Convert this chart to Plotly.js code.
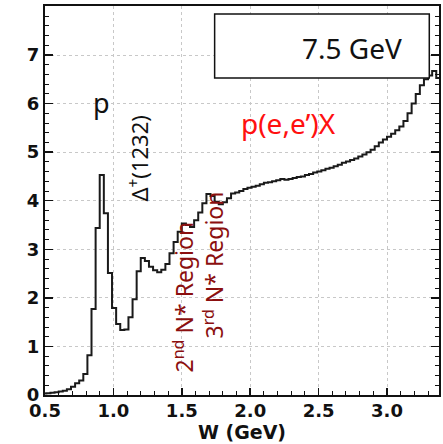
<!DOCTYPE html>
<html>
<head>
<meta charset="utf-8">
<script src="https://cdn.plot.ly/plotly-3.0.1.min.js"></script>
<style>
  html, body { margin: 0; padding: 0; background: #fff; }
  #chart { width: 443px; height: 444px; }
</style>
</head>
<body>
<div id="chart"></div>
<script>
// Inclusive p(e,e')X yield versus invariant mass W, 7.5 GeV beam.
const binStart = 0.48;   // GeV, lower edge of the first bin
const binWidth = 0.03;   // GeV
const counts = [
  0.03, 0.035, 0.045, 0.055, 0.07, 0.09, 0.12, 0.17, 0.24, 0.30, 0.43, 0.82,
  1.77, 3.44, 4.53, 3.74, 2.51, 1.79, 1.46, 1.34, 1.35, 1.60, 1.97, 2.55,
  2.82, 2.76, 2.64, 2.57, 2.53, 2.58, 2.70, 2.92, 3.15, 3.36, 3.53, 3.50,
  3.46, 3.60, 3.76, 3.95, 4.14, 4.10, 3.98, 3.93, 3.97, 4.05, 4.15, 4.17,
  4.20, 4.24, 4.27, 4.29, 4.31, 4.34, 4.37, 4.38, 4.40, 4.42, 4.45, 4.43,
  4.45, 4.47, 4.49, 4.50, 4.53, 4.55, 4.58, 4.60, 4.63, 4.66, 4.68, 4.71,
  4.74, 4.78, 4.81, 4.84, 4.87, 4.91, 4.95, 5.00, 5.05, 5.12, 5.20, 5.26,
  5.32, 5.38, 5.45, 5.53, 5.64, 5.80, 6.00, 6.20, 6.38, 6.50, 6.58, 6.67,
  6.53
];
const xTickVals = [0.5, 1.0, 1.5, 2.0, 2.5, 3.0];
const xTickText = ['0.5', '1.0', '1.5', '2.0', '2.5', '3.0'];
const yTickVals = [0, 1, 2, 3, 4, 5, 6, 7];
const yTickText = ['0', '1', '2', '3', '4', '5', '6', '7'];

// Step outline: one point per bin edge, the last edge repeats the last bin.
const edges = counts.map((_, i) => binStart + i * binWidth);
edges.push(binStart + counts.length * binWidth);
const stepY = counts.concat([counts[counts.length - 1]]);

const trace = {
  x: edges,
  y: stepY,
  type: 'scatter',
  mode: 'lines',
  line: { shape: 'hv', color: '#1a1a1a', width: 2 },
  hoverinfo: 'skip'
};

const tickFont = { family: 'DejaVu Sans', size: 18, color: '#111', weight: 'bold' };
const annFont = 'Noto Sans, Open Sans, sans-serif';
const nstar = '#8b0f0f';

const layout = {
  width: 443,
  height: 444,
  margin: { l: 45, r: 4, t: 6, b: 49 },
  paper_bgcolor: '#fff',
  plot_bgcolor: '#fff',
  showlegend: false,
  xaxis: {
    range: [0.5, 3.38],
    tickvals: xTickVals,
    ticktext: xTickText,
    ticks: 'inside',
    ticklen: 7,
    tickwidth: 1.5,
    tickcolor: '#111',
    tickfont: tickFont,
    ticklabelstandoff: -2,
    showline: true,
    linecolor: '#111',
    linewidth: 2,
    mirror: true,
    showgrid: true,
    gridcolor: '#c8c8c8',
    griddash: 'dot',
    gridwidth: 1,
    zeroline: false,
    minor: { dtick: 0.1, tick0: 0.5, ticks: 'inside', ticklen: 4, tickcolor: '#111', tickwidth: 1, showgrid: false },
    title: { text: 'W (GeV)', font: { family: 'DejaVu Sans', size: 19, color: '#111', weight: 'bold' }, standoff: 2 }
  },
  yaxis: {
    range: [0, 8.01],
    tickvals: yTickVals,
    ticktext: yTickText,
    ticks: 'inside',
    ticklen: 8,
    tickwidth: 1.5,
    tickcolor: '#111',
    tickfont: tickFont,
    showline: true,
    linecolor: '#111',
    linewidth: 2,
    mirror: 'ticks',
    showgrid: true,
    gridcolor: '#c8c8c8',
    griddash: 'dot',
    gridwidth: 1,
    zeroline: false,
    minor: { dtick: 0.2, tick0: 0, ticks: 'inside', ticklen: 4, tickcolor: '#111', tickwidth: 1, showgrid: false }
  },
  shapes: [{
    type: 'rect', xref: 'x', yref: 'y',
    x0: 1.74, x1: 3.309, y0: 6.527, y1: 7.844,
    fillcolor: '#fff',
    line: { color: '#111', width: 1.5 },
    layer: 'above'
  }],
  annotations: [
    { x: 2.745, y: 7.144, xref: 'x', yref: 'y', text: '7.5 GeV', showarrow: false,
      xanchor: 'center', yanchor: 'middle',
      font: { family: annFont, size: 28, color: '#111' } },
    { x: 0.912, y: 6.03, xref: 'x', yref: 'y', text: 'p', showarrow: false,
      xanchor: 'center', yanchor: 'middle',
      font: { family: annFont, size: 27, color: '#111' } },
    { x: 1.184, y: 4.86, xref: 'x', yref: 'y', text: 'Δ<sup>+</sup>(1232)', textangle: -90, showarrow: false,
      font: { family: annFont, size: 22, color: '#111' } },
    { x: 2.28, y: 5.6, xref: 'x', yref: 'y', text: 'p(e,e’)X', showarrow: false,
      xanchor: 'center', yanchor: 'middle',
      font: { family: annFont, size: 28, color: '#ff1010' } },
    { x: 1.513, y: 2.02, xref: 'x', yref: 'y', text: '2<sup>nd</sup> N* Region', textangle: -90, showarrow: false,
      font: { family: annFont, size: 23, color: nstar } },
    { x: 1.733, y: 2.68, xref: 'x', yref: 'y', text: '3<sup>rd</sup> N* Region', textangle: -90, showarrow: false,
      font: { family: annFont, size: 23, color: nstar } }
  ]
};

Plotly.newPlot('chart', [trace], layout, { staticPlot: true, displayModeBar: false });
</script>
</body>
</html>
